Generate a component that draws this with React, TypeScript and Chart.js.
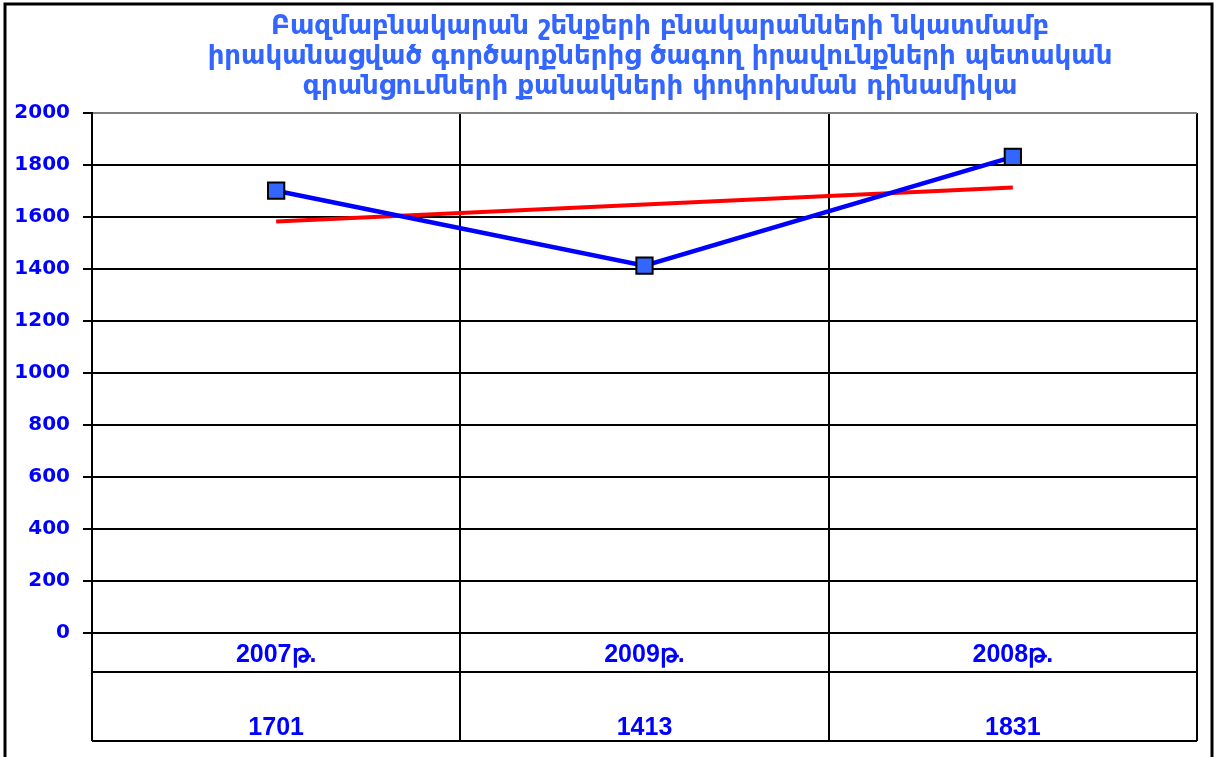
import React, { useEffect, useRef } from "react";
import { Chart, registerables } from "chart.js";

Chart.register(...registerables);

const titleLines = [
  "Բազմաբնակարան շենքերի բնակարանների նկատմամբ",
  "իրականացված գործարքներից ծագող իրավունքների պետական",
  "գրանցումների քանակների փոփոխման դինամիկա",
];
const categories = ["2007թ.", "2009թ.", "2008թ."];
const registrations = [1701, 1413, 1831];
const trendValues = [1583, 1648, 1713];
const yTicks = [0, 200, 400, 600, 800, 1000, 1200, 1400, 1600, 1800, 2000];

const BLUE_TEXT = "#0000FF";

const framePlugin = {
  id: "frame",
  beforeDraw(chart: any) {
    const ctx = chart.ctx;
    ctx.save();
    ctx.fillStyle = "#ffffff";
    ctx.fillRect(0, 0, chart.width, chart.height);
    ctx.strokeStyle = "#000";
    ctx.lineWidth = 3;
    ctx.strokeRect(5, 4, 1207, 770);
    ctx.restore();
  },
};

const titlePlugin = {
  id: "customTitle",
  afterDraw(chart: any) {
    const ctx = chart.ctx;
    ctx.save();
    ctx.fillStyle = "#3366FF";
    ctx.font = "bold 26px 'DejaVu Sans'";
    ctx.textAlign = "center";
    ctx.textBaseline = "middle";
    const cx = 660;
    titleLines.forEach((t, i) => ctx.fillText(t, cx, 27 + i * 30));
    ctx.restore();
  },
};

const tablePlugin = {
  id: "dataTable",
  afterDraw(chart: any) {
    const ctx = chart.ctx;
    const xs = chart.scales.x;
    const area = chart.chartArea;
    const n = categories.length;
    const step = n > 1 ? xs.getPixelForValue(1) - xs.getPixelForValue(0) : area.right - area.left;
    const top = area.bottom;
    const mid = top + 39;
    const bot = top + 108;
    ctx.save();
    ctx.strokeStyle = "#000";
    ctx.lineWidth = 2;
    ctx.beginPath();
    ctx.moveTo(area.left, mid);
    ctx.lineTo(area.right, mid);
    ctx.moveTo(area.left, bot);
    ctx.lineTo(area.right, bot);
    for (let i = 0; i <= n; i++) {
      const x = Math.round(xs.getPixelForValue(0) - step / 2 + i * step);
      ctx.moveTo(x, top);
      ctx.lineTo(x, bot);
    }
    ctx.stroke();
    ctx.fillStyle = BLUE_TEXT;
    ctx.font = "bold 25px 'Liberation Sans', Arial, sans-serif";
    ctx.textAlign = "center";
    ctx.textBaseline = "middle";
    categories.forEach((c, i) => {
      const x = xs.getPixelForValue(i);
      ctx.fillText(c, x, top + 22);
      ctx.fillText(String(registrations[i]), x, top + 95);
    });
    ctx.restore();
  },
};

export default function App() {
  const ref = useRef<HTMLCanvasElement | null>(null);
  useEffect(() => {
    document.body.style.margin = "0";
    if (!ref.current) return;
    const chart = new Chart(ref.current, {
      type: "line",
      data: {
        labels: categories,
        datasets: [
          {
            label: "Գրանցումներ",
            data: registrations,
            borderColor: "#0000FF",
            borderWidth: 4.5,
            pointStyle: "rect",
            pointRadius: 11.5,
            pointHoverRadius: 11.5,
            pointBackgroundColor: "#3366FF",
            pointBorderColor: "#000",
            pointBorderWidth: 2,
            tension: 0,
            order: 1,
          },
          {
            label: "Գծային միտում",
            data: trendValues,
            borderColor: "#FF0000",
            borderWidth: 4,
            pointRadius: 0,
            tension: 0,
            order: 2,
          },
        ],
      },
      options: {
        animation: false,
        responsive: false,
        maintainAspectRatio: false,
        layout: { padding: { top: 113, right: 20, bottom: 124, left: 0 } },
        plugins: {
          legend: { display: false },
          title: { display: false },
          tooltip: { enabled: false },
        },
        scales: {
          x: {
            offset: true,
            grid: {
              offset: true,
              color: "#000",
              lineWidth: 2,
              drawTicks: false,
            },
            border: { display: false },
            ticks: { display: false },
            afterFit: (s: any) => {
              s.height = 0;
            },
          },
          y: {
            min: 0,
            max: 2000,
            afterBuildTicks: (s: any) => {
              s.ticks = yTicks.map((v) => ({ value: v }));
            },
            grid: {
              color: (c: any) => (c.tick && c.tick.value === 2000 ? "#808080" : "#000"),
              lineWidth: 2,
              tickLength: 9,
              tickColor: "#000",
            },
            border: { display: true, color: "#000", width: 2 },
            ticks: {
              color: BLUE_TEXT,
              padding: 13,
              font: { family: "'DejaVu Sans'", size: 20, weight: "bold" },
              callback: (v: any) => String(v),
            },
            afterFit: (s: any) => {
              s.width = 92;
            },
          },
        },
      },
      plugins: [framePlugin, titlePlugin, tablePlugin],
    });
    return () => chart.destroy();
  }, []);
  return (
    <div style={{ position: "absolute", left: 0, top: 0, width: 1217, height: 757 }}>
      <canvas ref={ref} width={1217} height={757} style={{ width: 1217, height: 757 }} />
    </div>
  );
}
